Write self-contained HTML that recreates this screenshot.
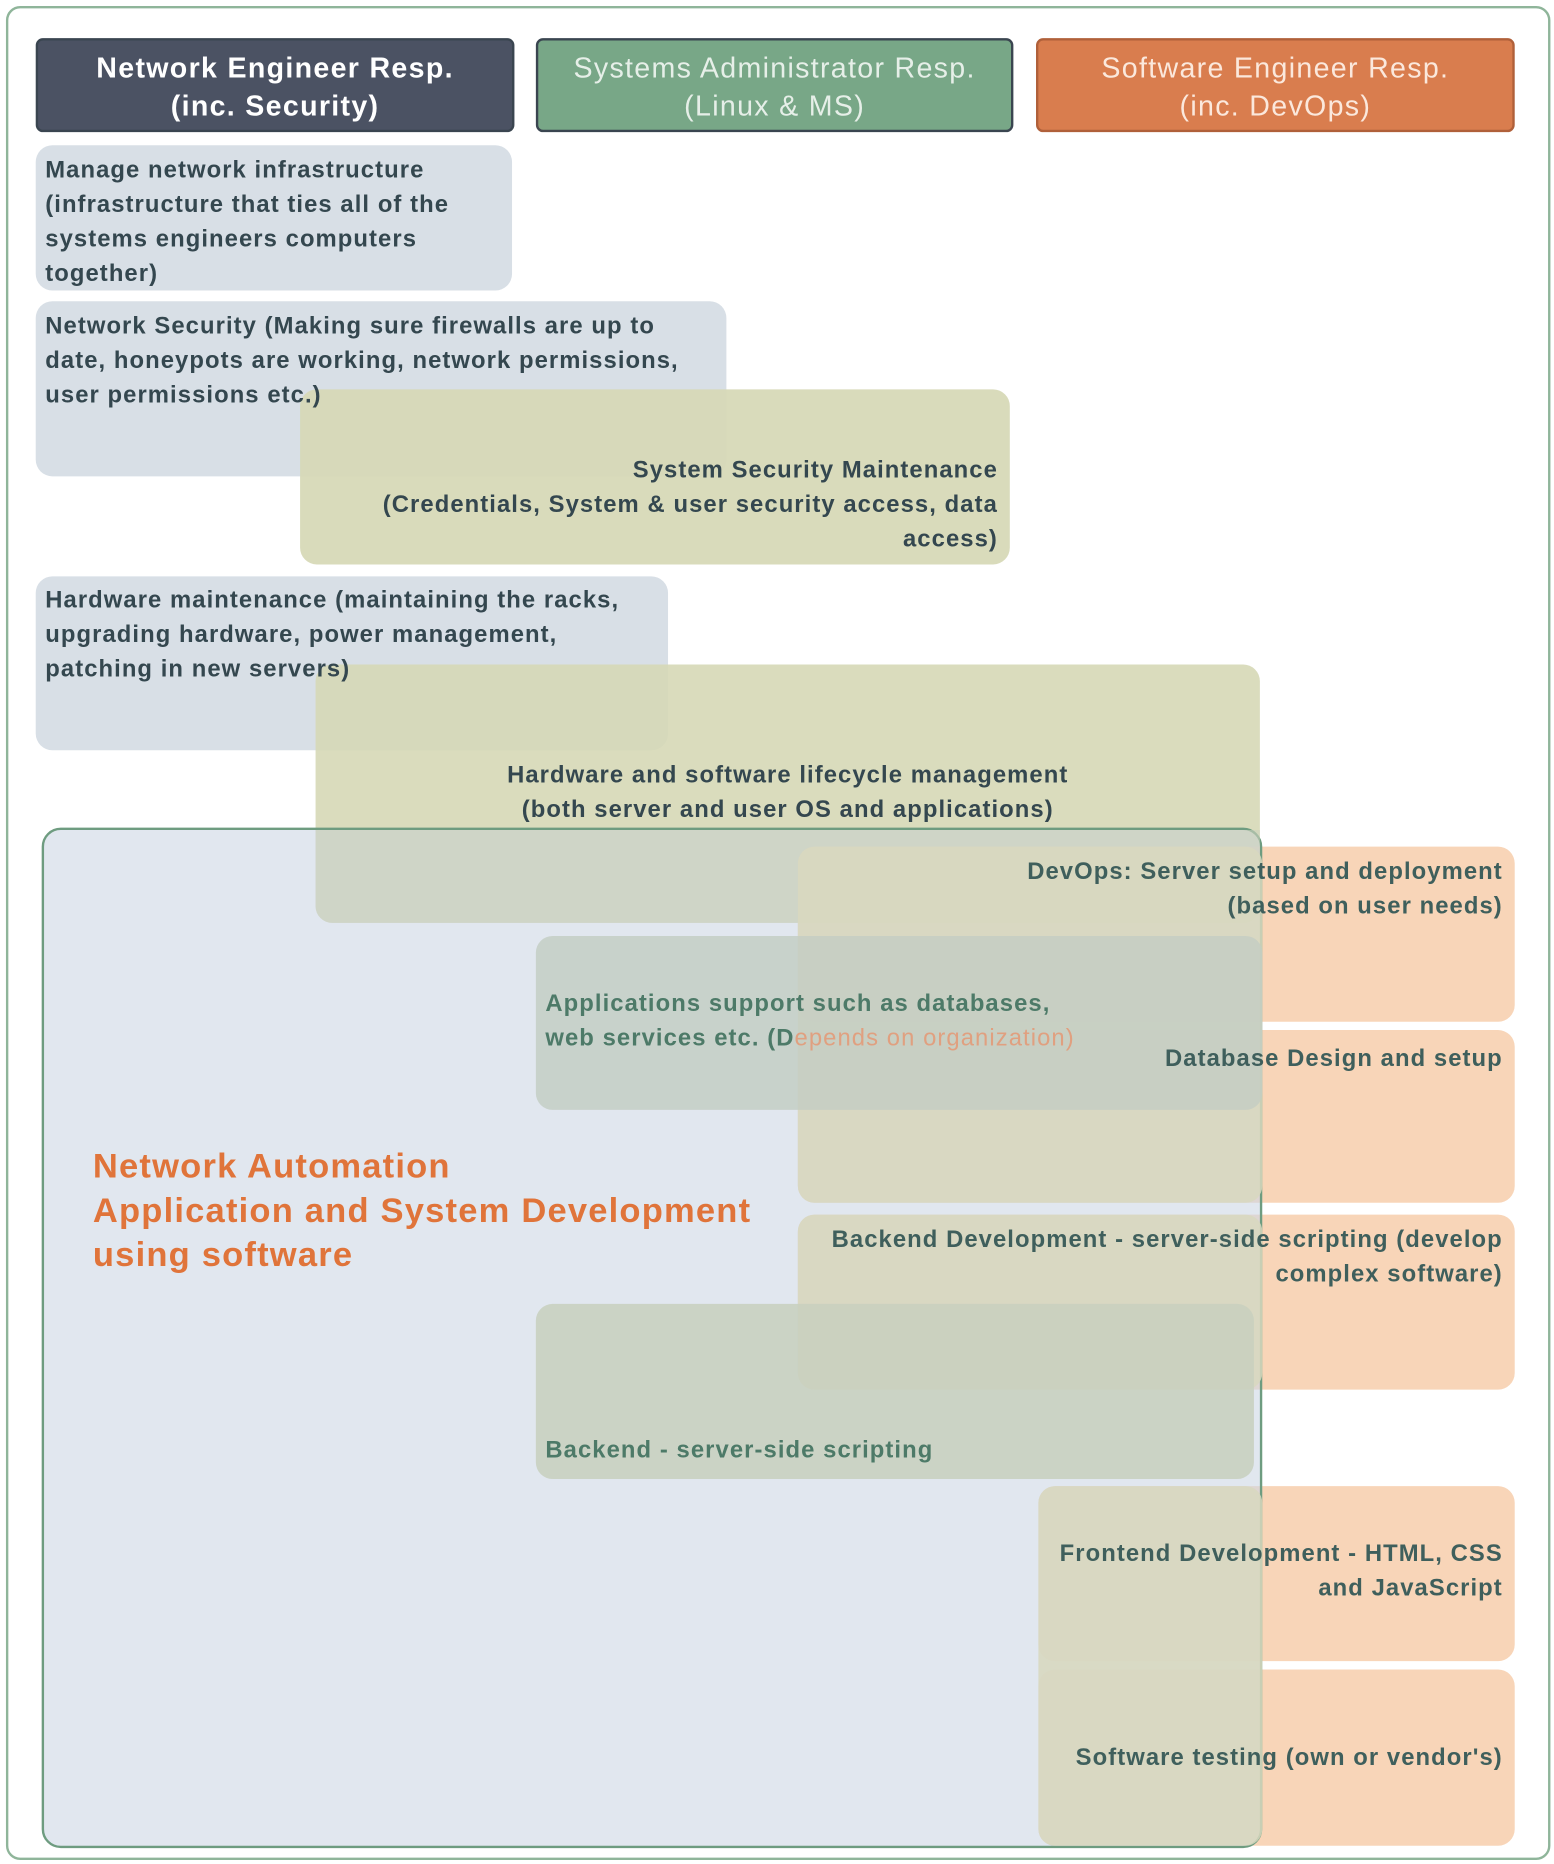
<!DOCTYPE html>
<html><head><meta charset="utf-8"><style>
html,body{margin:0;padding:0;background:#fff;}
#wrap{position:relative;width:1305px;height:1565px;transform:scale(1.19081);transform-origin:0 0;font-family:"Liberation Sans",sans-serif;font-weight:bold;}
.b{position:absolute;box-sizing:border-box;border-radius:14px;}
.t{position:absolute;font-size:20px;line-height:29px;color:#34474f;letter-spacing:0.9px;white-space:nowrap;}
.h{position:absolute;box-sizing:border-box;border-radius:6px;color:#fff;font-size:24px;line-height:32px;text-align:center;padding-top:8px;font-weight:normal;border:2px solid #3a4550;letter-spacing:1.1px;}
</style></head><body><div id="wrap">
<div class="b" style="left:5px;top:5px;width:1297px;height:1557px;border:2px solid #8fb59a;border-radius:12px;"></div>
<div class="h" style="left:30px;top:32px;width:402px;height:79px;background:#4b5263;font-weight:bold;">Network Engineer Resp.<br>(inc. Security)</div>
<div class="h" style="left:450px;top:32px;width:401px;height:79px;background:#78a787;color:#e6efe8;">Systems Administrator Resp.<br>(Linux &amp; MS)</div>
<div class="h" style="left:870px;top:32px;width:402px;height:79px;background:#d97d4e;color:#fbe8dc;border-color:#b0603a;">Software Engineer Resp.<br>(inc. DevOps)</div>

<div class="b" style="left:30px;top:122px;width:400px;height:122px;background:#d8dfe6;"></div>
<div class="b" style="left:30px;top:253px;width:580px;height:147px;background:#d8dfe6;"></div>
<div class="b" style="left:252px;top:327px;width:596px;height:147px;background:rgba(214,216,182,0.93);"></div>
<div class="b" style="left:30px;top:484px;width:531px;height:146px;background:#d8dfe6;"></div>
<div class="b" style="left:265px;top:558px;width:793px;height:217px;background:rgba(214,216,182,0.9);"></div>

<div class="b" style="left:670px;top:711px;width:602px;height:147px;background:#f8d5b8;"></div>
<div class="b" style="left:670px;top:865px;width:602px;height:145px;background:#f8d5b8;"></div>
<div class="b" style="left:670px;top:1020px;width:602px;height:147px;background:#f8d5b8;"></div>
<div class="b" style="left:872px;top:1248px;width:400px;height:147px;background:#f8d5b8;"></div>
<div class="b" style="left:872px;top:1402px;width:400px;height:148px;background:#f8d5b8;"></div>

<div class="b" style="left:35px;top:695px;width:1025px;height:857px;background:rgba(205,215,228,0.6);border:2px solid #6e9c80;border-radius:16px;"></div>
<div class="b" style="left:265px;top:697px;width:793px;height:78px;background:rgba(205,210,190,0.6);border-radius:0 0 14px 14px;"></div>
<div class="b" style="left:670px;top:711px;width:390px;height:299px;background:rgba(216,216,190,0.85);"></div>
<div class="b" style="left:670px;top:1020px;width:390px;height:147px;background:rgba(216,216,190,0.85);"></div>
<div class="b" style="left:872px;top:1248px;width:188px;height:302px;background:rgba(216,216,190,0.85);"></div>
<div class="b" style="left:450px;top:786px;width:610px;height:146px;background:rgba(195,205,195,0.8);"></div>
<div class="b" style="left:450px;top:1095px;width:603px;height:147px;background:rgba(200,208,190,0.85);"></div>

<div class="t" style="left:38px;top:129px;">Manage network infrastructure<br>(infrastructure that ties all of the<br>systems engineers computers<br>together)</div>
<div class="t" style="left:38px;top:260px;">Network Security (Making sure firewalls are up to<br>date, honeypots are working, network permissions,<br>user permissions etc.)</div>
<div class="t" style="left:200px;top:381px;width:638px;text-align:right;">System Security Maintenance<br>(Credentials, System &amp; user security access, data<br>access)</div>
<div class="t" style="left:38px;top:490px;">Hardware maintenance (maintaining the racks,<br>upgrading hardware, power management,<br>patching in new servers)</div>
<div class="t" style="left:265px;top:637px;width:793px;text-align:center;">Hardware and software lifecycle management<br>(both server and user OS and applications)</div>
<div class="t" style="left:640px;top:718px;width:622px;text-align:right;color:#3f5f5c;">DevOps: Server setup and deployment<br>(based on user needs)</div>
<div class="t" style="left:458px;top:829px;color:#4d7a68;">Applications support such as databases,<br>web services etc. (D<span style="color:#e0a080;font-weight:normal;">epends on organization)</span></div>
<div class="t" style="left:680px;top:875px;width:582px;text-align:right;color:#3f5f5c;">Database Design and setup</div>
<div class="t" style="left:640px;top:1027px;width:622px;text-align:right;color:#3f5f5c;">Backend Development - server-side scripting (develop<br>complex software)</div>
<div class="t" style="left:458px;top:1204px;color:#4d7a68;">Backend - server-side scripting</div>
<div class="t" style="left:860px;top:1291px;width:402px;text-align:right;color:#3f5f5c;">Frontend Development - HTML, CSS<br>and JavaScript</div>
<div class="t" style="left:860px;top:1462px;width:402px;text-align:right;color:#3f5f5c;">Software testing (own or vendor's)</div>
<div class="t" style="left:78px;top:962px;font-size:29px;line-height:37px;color:#e0743a;letter-spacing:1px;">Network Automation<br>Application and System Development<br>using software</div>
</div></body></html>
